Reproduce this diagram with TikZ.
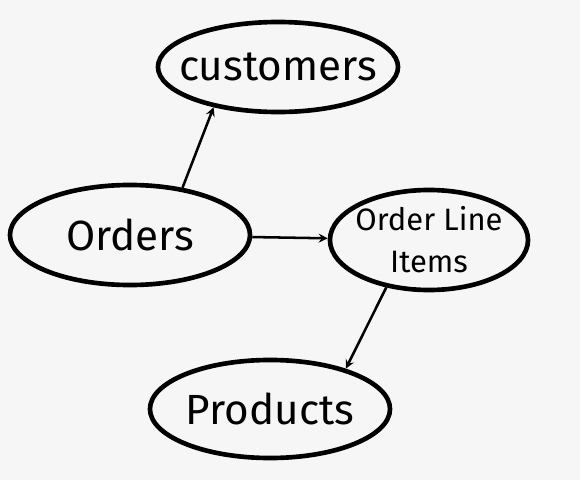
\documentclass[tikz,border=0pt]{standalone}
\usepackage{fontspec}
\setmainfont{Fira Sans}
\usetikzlibrary{shapes.geometric}
\definecolor{paper}{HTML}{F6F6F6}
\begin{document}
\begin{tikzpicture}[x=0.025cm, y=-0.025cm, >=stealth]
    \tikzstyle{entity} = [ellipse, draw, line width=3.3pt, inner xsep=-1.3cm, inner ysep=-0.4cm, font=\fontsize{30}{32}\selectfont, align=center]
    \tikzstyle{link} = [->, line width=1.8pt]

    \fill [paper] (0,0) rectangle (580,480);
    \useasboundingbox (0,0) rectangle (580,480);

    \node [entity, minimum width=6cm, minimum height=2.25cm] (cust) at (278,67) {customers};
    \node [entity, minimum width=6cm, minimum height=2.5cm] (ord) at (130,235) {Orders};
    \node [entity, minimum width=4.95cm, minimum height=2.5cm, font=\fontsize{22}{30}\selectfont] (oli) at (429,240) {Order Line\\Items};
    \node [entity, minimum width=6cm, minimum height=2.45cm] (prod) at (270,409) {Products};

    \draw [link] (ord.42) -- (cust.-148);
    \draw [link] (ord) -- (oli);
    \draw [link] (oli.-132) -- (prod.28);
\end{tikzpicture}
\end{document}
